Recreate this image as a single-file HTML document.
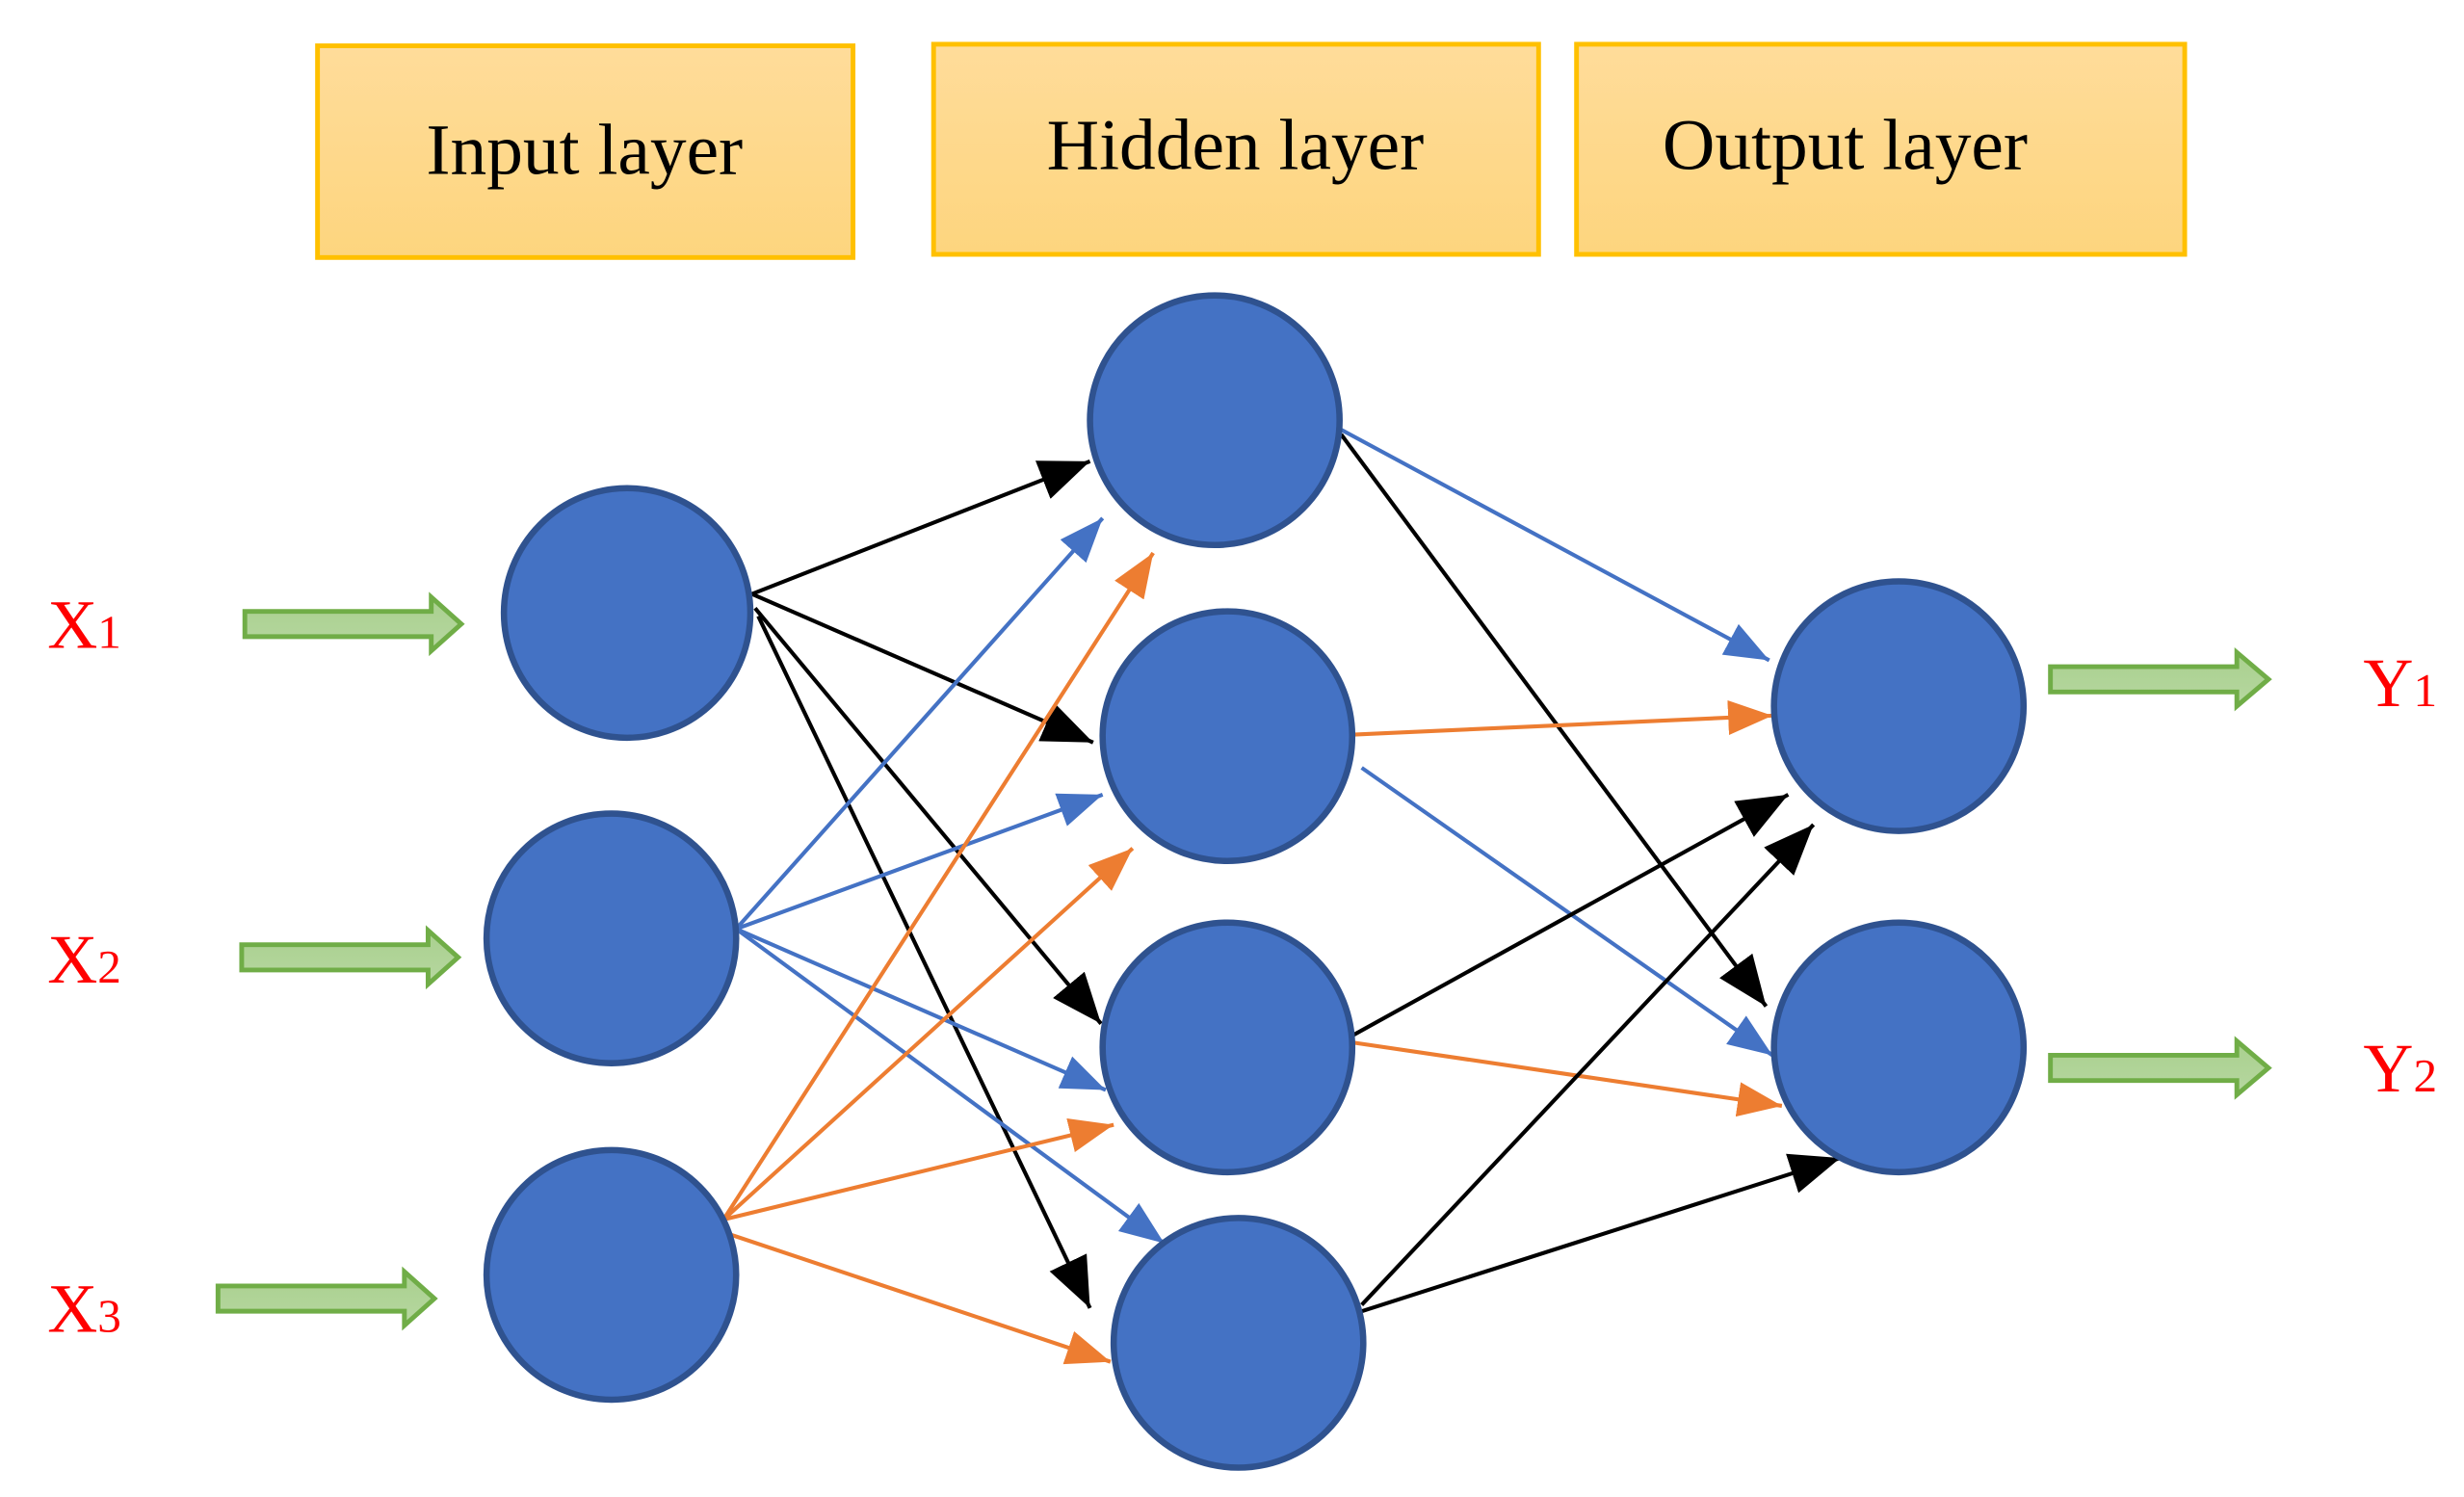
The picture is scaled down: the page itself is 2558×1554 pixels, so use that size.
<!DOCTYPE html>
<html><head><meta charset="utf-8"><style>
html,body{margin:0;padding:0;background:#fff;}
svg{display:block;}
</style></head><body>
<svg width="2558" height="1554" viewBox="0 0 1559.8 947.6" preserveAspectRatio="none" xmlns="http://www.w3.org/2000/svg">
<defs>
<linearGradient id="bg" x1="0" y1="0" x2="0" y2="1"><stop offset="0" stop-color="#FFDC9A"/><stop offset="1" stop-color="#FDD57E"/></linearGradient>
<linearGradient id="gg" x1="0" y1="0" x2="0" y2="1"><stop offset="0" stop-color="#A9D08E"/><stop offset="1" stop-color="#B6D7A0"/></linearGradient>
<marker id="mk" markerUnits="userSpaceOnUse" markerWidth="34" markerHeight="28" refX="32" refY="13" orient="auto"><path d="M0,0 L32,13 L0,26 Z" fill="#000"/></marker>
<marker id="mb" markerUnits="userSpaceOnUse" markerWidth="30" markerHeight="24" refX="28" refY="11" orient="auto"><path d="M0,0 L28,11 L0,22 Z" fill="#4472C4"/></marker>
<marker id="mo" markerUnits="userSpaceOnUse" markerWidth="30" markerHeight="24" refX="28" refY="11" orient="auto"><path d="M0,0 L28,11 L0,22 Z" fill="#ED7D31"/></marker>
</defs>
<g stroke="#FFC000" stroke-width="3" fill="url(#bg)">
<rect x="201" y="29" width="339" height="134"/>
<rect x="591" y="28" width="383" height="133"/>
<rect x="998" y="28" width="385" height="133"/>
</g>
<g font-family="Liberation Serif, serif" font-size="46" fill="#000">
<text x="370" y="110" text-anchor="middle">Input layer</text>
<text x="782" y="107" text-anchor="middle">Hidden layer</text>
<text x="1168" y="107" text-anchor="middle">Output layer</text>
</g>
<g stroke-width="2.5" fill="none">
<line x1="476" y1="376" x2="690" y2="292" stroke="#000" marker-end="url(#mk)"/>
<line x1="476" y1="376" x2="692" y2="470" stroke="#000" marker-end="url(#mk)"/>
<line x1="478" y1="385" x2="697" y2="648" stroke="#000" marker-end="url(#mk)"/>
<line x1="480" y1="390" x2="690" y2="828" stroke="#000" marker-end="url(#mk)"/>
<line x1="466" y1="588" x2="698" y2="328" stroke="#4472C4" marker-end="url(#mb)"/>
<line x1="466" y1="588" x2="698" y2="503" stroke="#4472C4" marker-end="url(#mb)"/>
<line x1="466" y1="588" x2="700" y2="690" stroke="#4472C4" marker-end="url(#mb)"/>
<line x1="466" y1="588" x2="737" y2="787" stroke="#4472C4" marker-end="url(#mb)"/>
<line x1="440" y1="777" x2="460" y2="771" stroke="#ED7D31"/>
<line x1="458" y1="772" x2="730" y2="350" stroke="#ED7D31" marker-end="url(#mo)"/>
<line x1="458" y1="772" x2="717" y2="537" stroke="#ED7D31" marker-end="url(#mo)"/>
<line x1="458" y1="772" x2="705" y2="712" stroke="#ED7D31" marker-end="url(#mo)"/>
<line x1="458" y1="780" x2="703" y2="862" stroke="#ED7D31" marker-end="url(#mo)"/>
<line x1="849" y1="272" x2="1120" y2="418" stroke="#4472C4" marker-end="url(#mb)"/>
<line x1="849" y1="275" x2="1118" y2="637" stroke="#000" marker-end="url(#mk)"/>
<line x1="857" y1="465" x2="1122" y2="453" stroke="#ED7D31" marker-end="url(#mo)"/>
<line x1="862" y1="486" x2="1122" y2="668" stroke="#4472C4" marker-end="url(#mb)"/>
<line x1="857" y1="655" x2="1132" y2="503" stroke="#000" marker-end="url(#mk)"/>
<line x1="857" y1="660" x2="1128" y2="700" stroke="#ED7D31" marker-end="url(#mo)"/>
<line x1="862" y1="826" x2="1148" y2="522" stroke="#000" marker-end="url(#mk)"/>
<line x1="862" y1="830" x2="1165" y2="733" stroke="#000" marker-end="url(#mk)"/>
</g>
<g fill="#4472C4" stroke="#2F528F" stroke-width="4">
<ellipse cx="397" cy="388" rx="78" ry="79"/>
<ellipse cx="387" cy="594" rx="79" ry="79"/>
<ellipse cx="387" cy="807" rx="79" ry="79"/>
<ellipse cx="769" cy="266" rx="79" ry="79"/>
<ellipse cx="777" cy="466" rx="79" ry="79"/>
<ellipse cx="777" cy="663" rx="79" ry="79"/>
<ellipse cx="784" cy="850" rx="79" ry="79"/>
<ellipse cx="1202" cy="447" rx="79" ry="79"/>
<ellipse cx="1202" cy="663" rx="79" ry="79"/>
</g>
<g fill="url(#gg)" stroke="#70AD47" stroke-width="3">
<path d="M155,387 L273,387 L273,378 L292,395 L273,412 L273,403 L155,403 Z"/>
<path d="M153,598 L271,598 L271,589 L290,606 L271,623 L271,614 L153,614 Z"/>
<path d="M138,814 L256,814 L256,805 L275,822 L256,839 L256,830 L138,830 Z"/>
<path d="M1298,422 L1416,422 L1416,413 L1436,430 L1416,447 L1416,438 L1298,438 Z"/>
<path d="M1298,668 L1416,668 L1416,659 L1436,676 L1416,693 L1416,684 L1298,684 Z"/>
</g>
<g font-family="Liberation Serif, serif" fill="#FF0000">
<text x="30" y="410" font-size="44">X<tspan font-size="30">1</tspan></text>
<text x="30" y="622" font-size="44">X<tspan font-size="30">2</tspan></text>
<text x="30" y="843" font-size="44">X<tspan font-size="30">3</tspan></text>
<text x="1496" y="447" font-size="44">Y<tspan font-size="30">1</tspan></text>
<text x="1496" y="691" font-size="44">Y<tspan font-size="30">2</tspan></text>
</g>
</svg>
</body></html>
